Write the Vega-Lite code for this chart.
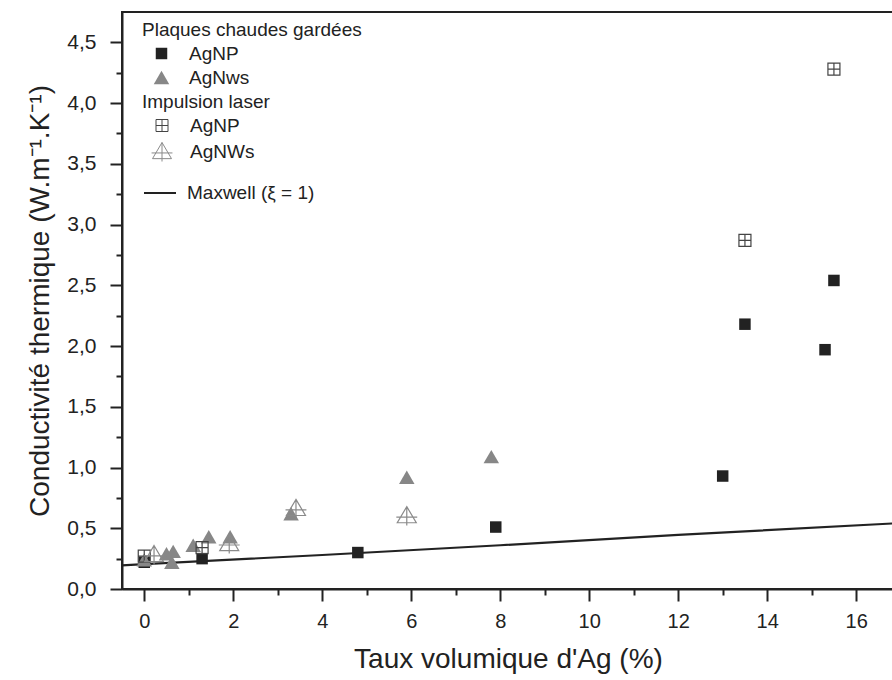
{
  "$schema": "https://vega.github.io/schema/vega-lite/v6.json",
  "width": 772,
  "height": 577,
  "autosize": {"type": "none"},
  "padding": {"left": 122, "top": 12, "right": 0, "bottom": 91},
  "background": "white",
  "config": {
    "font": "Liberation Sans",
    "view": {"stroke": "#222222", "strokeWidth": 2},
    "axis": {
      "grid": false,
      "domainColor": "#222222",
      "domainWidth": 2,
      "tickColor": "#222222",
      "tickWidth": 2,
      "labelColor": "#222222",
      "titleColor": "#222222",
      "titleFontWeight": "normal",
      "labelFont": "Liberation Sans",
      "titleFont": "Liberation Sans"
    },
    "legend": {
      "titleFont": "Liberation Sans",
      "labelFont": "Liberation Sans",
      "titleFontSize": 19,
      "titleFontWeight": "normal",
      "titleColor": "#222222",
      "titleLimit": 500,
      "labelLimit": 500,
      "labelFontSize": 19,
      "labelColor": "#222222",
      "padding": 0,
      "orient": "none"
    }
  },
  "data": {
    "values": [
      {"series": "pg", "type": "AgNP", "x": 0, "y": 0.22},
      {"series": "pg", "type": "AgNP", "x": 1.3, "y": 0.25},
      {"series": "pg", "type": "AgNP", "x": 4.8, "y": 0.30},
      {"series": "pg", "type": "AgNP", "x": 7.9, "y": 0.51},
      {"series": "pg", "type": "AgNP", "x": 13.0, "y": 0.93},
      {"series": "pg", "type": "AgNP", "x": 13.5, "y": 2.18},
      {"series": "pg", "type": "AgNP", "x": 15.3, "y": 1.97},
      {"series": "pg", "type": "AgNP", "x": 15.5, "y": 2.54},
      {"series": "pg", "type": "AgNws", "x": 0, "y": 0.24},
      {"series": "pg", "type": "AgNws", "x": 0.5, "y": 0.29},
      {"series": "pg", "type": "AgNws", "x": 0.65, "y": 0.31},
      {"series": "pg", "type": "AgNws", "x": 0.62, "y": 0.22},
      {"series": "pg", "type": "AgNws", "x": 1.1, "y": 0.36},
      {"series": "pg", "type": "AgNws", "x": 1.45, "y": 0.43},
      {"series": "pg", "type": "AgNws", "x": 1.93, "y": 0.43},
      {"series": "pg", "type": "AgNws", "x": 3.3, "y": 0.62},
      {"series": "pg", "type": "AgNws", "x": 5.9, "y": 0.92},
      {"series": "pg", "type": "AgNws", "x": 7.8, "y": 1.09},
      {"series": "la", "type": "AgNP", "x": 0, "y": 0.27},
      {"series": "la", "type": "AgNP", "x": 1.3, "y": 0.34},
      {"series": "la", "type": "AgNP", "x": 13.5, "y": 2.87},
      {"series": "la", "type": "AgNP", "x": 15.5, "y": 4.28},
      {"series": "la", "type": "AgNWs", "x": 0.22, "y": 0.28},
      {"series": "la", "type": "AgNWs", "x": 1.91, "y": 0.37},
      {"series": "la", "type": "AgNWs", "x": 3.41, "y": 0.66},
      {"series": "la", "type": "AgNWs", "x": 5.9, "y": 0.60},
      {"series": "mx", "type": "Maxwell (ξ = 1)", "x": -0.5, "y": 0.195},
      {"series": "mx", "type": "Maxwell (ξ = 1)", "x": 0, "y": 0.205},
      {"series": "mx", "type": "Maxwell (ξ = 1)", "x": 4, "y": 0.28},
      {"series": "mx", "type": "Maxwell (ξ = 1)", "x": 8, "y": 0.36},
      {"series": "mx", "type": "Maxwell (ξ = 1)", "x": 12, "y": 0.445},
      {"series": "mx", "type": "Maxwell (ξ = 1)", "x": 16.85, "y": 0.54}
    ]
  },
  "encoding": {
    "x": {
      "field": "x",
      "type": "quantitative",
      "scale": {"domain": [-0.5, 16.85], "nice": false, "zero": false},
      "axis": {
        "values": [0, 1, 2, 3, 4, 5, 6, 7, 8, 9, 10, 11, 12, 13, 14, 15, 16],
        "tickSize": {"condition": {"test": "datum.value % 2 === 0", "value": 12}, "value": 6},
        "labelExpr": "datum.value % 2 === 0 ? datum.label : ''",
        "labelFontSize": 20,
        "labelPadding": 10,
        "title": "Taux volumique d'Ag (%)",
        "titleFontSize": 28,
        "titlePadding": 14
      }
    },
    "y": {
      "field": "y",
      "type": "quantitative",
      "scale": {"domain": [0, 4.75], "nice": false, "zero": false},
      "axis": {
        "values": [0, 0.25, 0.5, 0.75, 1, 1.25, 1.5, 1.75, 2, 2.25, 2.5, 2.75, 3, 3.25, 3.5, 3.75, 4, 4.25, 4.5],
        "tickSize": {"condition": {"test": "(datum.value * 2) % 1 === 0", "value": 12}, "value": 6},
        "labelExpr": "(datum.value * 2) % 1 === 0 ? replace(format(datum.value, '.1f'), '.', ',') : ''",
        "labelFontSize": 21,
        "labelPadding": 14,
        "title": "Conductivité thermique (W.m⁻¹.K⁻¹)",
        "titleFontSize": 28,
        "titlePadding": 12
      }
    }
  },
  "layer": [
    {
      "transform": [{"filter": "datum.series === 'mx'"}],
      "mark": {"type": "line", "strokeWidth": 2.2},
      "encoding": {
        "color": {
          "field": "type",
          "type": "nominal",
          "scale": {"domain": ["Maxwell (ξ = 1)"], "range": ["#222222"]},
          "legend": {
            "title": null,
            "legendX": 21,
            "legendY": 164,
            "symbolSize": 1024,
            "symbolStrokeWidth": 2,
            "symbolType": "stroke",
            "labelOffset": 10
          }
        }
      }
    },
    {
      "transform": [{"filter": "datum.series === 'pg'"}],
      "mark": {"type": "point", "filled": true, "opacity": 1, "strokeWidth": 0},
      "encoding": {
        "shape": {
          "field": "type",
          "type": "nominal",
          "scale": {"domain": ["AgNP", "AgNws"], "range": ["square", "triangle-up"]},
          "legend": {
            "title": "Plaques chaudes gardées",
            "legendX": 20,
            "legendY": 9,
            "symbolSize": 65,
            "symbolOffset": 10,
            "labelOffset": 18,
            "rowPadding": 4,
            "titlePadding": 4
          }
        },
        "color": {
          "field": "type",
          "type": "nominal",
          "scale": {"domain": ["AgNP", "AgNws"], "range": ["#222222", "#878787"]},
          "legend": {
            "title": "Plaques chaudes gardées",
            "legendX": 20,
            "legendY": 9,
            "symbolSize": 65,
            "symbolOffset": 10,
            "labelOffset": 18,
            "rowPadding": 4,
            "titlePadding": 4
          }
        },
        "size": {
          "field": "type",
          "type": "nominal",
          "scale": {"domain": ["AgNP", "AgNws"], "range": [132, 240]},
          "legend": null
        }
      }
    },
    {
      "transform": [{"filter": "datum.series === 'la'"}],
      "mark": {"type": "point", "filled": false, "opacity": 1, "strokeWidth": 1.2},
      "encoding": {
        "shape": {
          "field": "type",
          "type": "nominal",
          "scale": {
            "domain": ["AgNP", "AgNWs"],
            "range": ["M-1,-1H1V1H-1Z M0,-1V1 M-1,0H1", "M0,-1L1,0.7H-1Z M0,-1V1 M-1.1,0.1H1.1"]
          },
          "legend": {
            "title": "Impulsion laser",
            "legendX": 20,
            "legendY": 81,
            "symbolSize": 65,
            "symbolOffset": 10,
            "labelOffset": 18,
            "rowPadding": 4,
            "titlePadding": 4,
            "symbolStrokeWidth": 1
          }
        },
        "color": {
          "field": "type",
          "type": "nominal",
          "scale": {"domain": ["AgNP", "AgNWs"], "range": ["#444444", "#8a8a8a"]},
          "legend": {
            "title": "Impulsion laser",
            "legendX": 20,
            "legendY": 81,
            "symbolSize": 65,
            "symbolOffset": 10,
            "labelOffset": 18,
            "rowPadding": 4,
            "titlePadding": 4,
            "symbolStrokeWidth": 1
          }
        },
        "size": {
          "field": "type",
          "type": "nominal",
          "scale": {"domain": ["AgNP", "AgNWs"], "range": [144, 361]},
          "legend": null
        }
      }
    }
  ],
  "resolve": {"scale": {"color": "independent", "shape": "independent", "size": "independent"}}
}
